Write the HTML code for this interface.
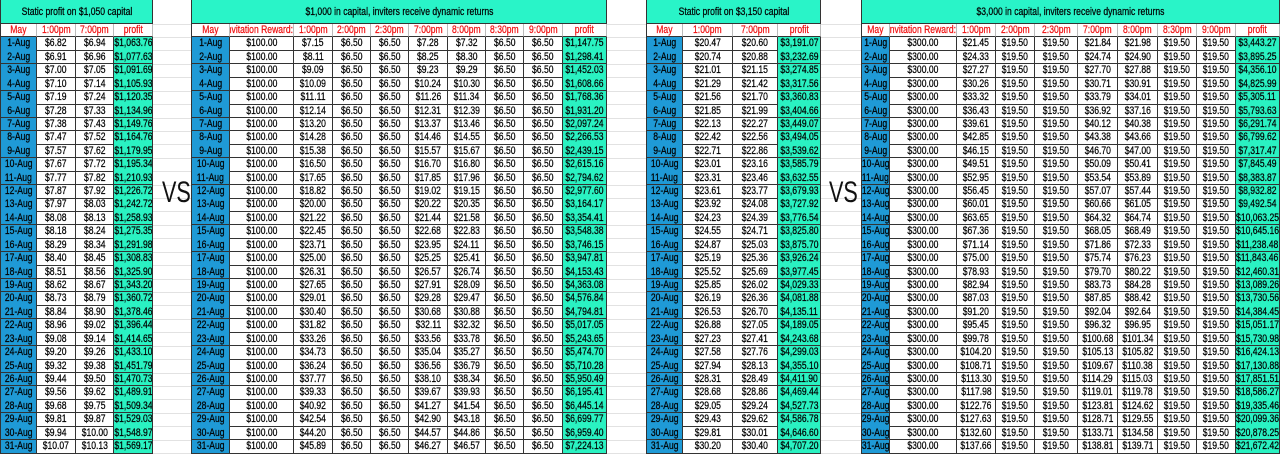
<!DOCTYPE html>
<html><head><meta charset="utf-8">
<style>
html,body{margin:0;padding:0;background:#fff;}
body{width:1280px;height:453px;position:relative;overflow:hidden;font-family:"Liberation Sans",sans-serif;}
.c{position:absolute;box-sizing:border-box;display:flex;align-items:center;justify-content:center;overflow:hidden;white-space:nowrap;font-size:11px;color:#000;border-right:1px solid #333;border-bottom:1px solid #333;-webkit-text-stroke:0.25px currentColor;}
.c span,.title span{display:inline-block;transform:scaleX(0.78);transform-origin:center;}
.c.right{justify-content:flex-end;}
.c.right span{transform-origin:right center;}
.title{position:absolute;box-sizing:border-box;background:#29f4c8;display:flex;align-items:center;justify-content:center;font-size:11px;color:#000;border-bottom:1px solid #333;-webkit-text-stroke:0.25px #000;}
.hd{color:#f01010;background:#fff;}
.date{background:#1f9ad6;}
.prof{background:#2af2c2;}
.vs{position:absolute;font-family:"Liberation Sans",sans-serif;font-size:30px;color:#111;transform:scaleX(0.72);transform-origin:left top;}
.g{position:absolute;background:#e2e2e2;}
</style></head>
<body>
<script>
// ---- data ----
const dates = ["1-Aug","2-Aug","3-Aug","4-Aug","5-Aug","6-Aug","7-Aug","8-Aug","9-Aug","10-Aug","11-Aug","12-Aug","13-Aug","14-Aug","15-Aug","16-Aug","17-Aug","18-Aug","19-Aug","20-Aug","21-Aug","22-Aug","23-Aug","24-Aug","25-Aug","26-Aug","27-Aug","28-Aug","29-Aug","30-Aug","31-Aug"];
const t1Pm1 = [6.82,6.91,7.00,7.10,7.19,7.28,7.38,7.47,7.57,7.67,7.77,7.87,7.97,8.08,8.18,8.29,8.40,8.51,8.62,8.73,8.84,8.96,9.08,9.20,9.32,9.44,9.56,9.68,9.81,9.94,10.07];
const t1Pm7 = [6.94,6.96,7.05,7.14,7.24,7.33,7.43,7.52,7.62,7.72,7.82,7.92,8.03,8.13,8.24,8.34,8.45,8.56,8.67,8.79,8.90,9.02,9.14,9.26,9.38,9.50,9.62,9.75,9.87,10.00,10.13];
const t1Profit = [1063.76,1077.63,1091.69,1105.93,1120.35,1134.96,1149.76,1164.76,1179.95,1195.34,1210.93,1226.72,1242.72,1258.93,1275.35,1291.98,1308.83,1325.90,1343.20,1360.72,1378.46,1396.44,1414.65,1433.10,1451.79,1470.73,1489.91,1509.34,1529.03,1548.97,1569.17];
const t2Reward = [100,100,100,100,100,100,100,100,100,100,100,100,100,100,100,100,100,100,100,100,100,100,100,100,100,100,100,100,100,100,100];
const t2Pm1 = [7.15,8.11,9.09,10.09,11.11,12.14,13.20,14.28,15.38,16.50,17.65,18.82,20.00,21.22,22.45,23.71,25.00,26.31,27.65,29.01,30.40,31.82,33.26,34.73,36.24,37.77,39.33,40.92,42.54,44.20,45.89];
const t2Flat = [6.5,6.5,6.5,6.5,6.5,6.5,6.5,6.5,6.5,6.5,6.5,6.5,6.5,6.5,6.5,6.5,6.5,6.5,6.5,6.5,6.5,6.5,6.5,6.5,6.5,6.5,6.5,6.5,6.5,6.5,6.5];
const t2Pm7 = [7.28,8.25,9.23,10.24,11.26,12.31,13.37,14.46,15.57,16.70,17.85,19.02,20.22,21.44,22.68,23.95,25.25,26.57,27.91,29.28,30.68,32.11,33.56,35.04,36.56,38.10,39.67,41.27,42.90,44.57,46.27];
const t2Pm8 = [7.32,8.30,9.29,10.30,11.34,12.39,13.46,14.55,15.67,16.80,17.96,19.15,20.35,21.58,22.83,24.11,25.41,26.74,28.09,29.47,30.88,32.32,33.78,35.27,36.79,38.34,39.93,41.54,43.18,44.86,46.57];
const t2Profit = [1147.75,1298.41,1452.03,1608.66,1768.36,1931.20,2097.24,2266.53,2439.15,2615.16,2794.62,2977.60,3164.17,3354.41,3548.38,3746.15,3947.81,4153.43,4363.08,4576.84,4794.81,5017.05,5243.65,5474.70,5710.28,5950.49,6195.41,6445.14,6699.77,6959.40,7224.13];
const t3Pm1 = [20.47,20.74,21.01,21.29,21.56,21.85,22.13,22.42,22.71,23.01,23.31,23.61,23.92,24.23,24.55,24.87,25.19,25.52,25.85,26.19,26.53,26.88,27.23,27.58,27.94,28.31,28.68,29.05,29.43,29.81,30.20];
const t3Pm7 = [20.60,20.88,21.15,21.42,21.70,21.99,22.27,22.56,22.86,23.16,23.46,23.77,24.08,24.39,24.71,25.03,25.36,25.69,26.02,26.36,26.70,27.05,27.41,27.76,28.13,28.49,28.86,29.24,29.62,30.01,30.40];
const t3Profit = [3191.07,3232.69,3274.85,3317.56,3360.83,3404.66,3449.07,3494.05,3539.62,3585.79,3632.55,3679.93,3727.92,3776.54,3825.80,3875.70,3926.24,3977.45,4029.33,4081.88,4135.11,4189.05,4243.68,4299.03,4355.10,4411.90,4469.44,4527.73,4586.78,4646.60,4707.20];
const t4Reward = [300,300,300,300,300,300,300,300,300,300,300,300,300,300,300,300,300,300,300,300,300,300,300,300,300,300,300,300,300,300,300];
const t4Pm1 = [21.45,24.33,27.27,30.26,33.32,36.43,39.61,42.85,46.15,49.51,52.95,56.45,60.01,63.65,67.36,71.14,75.00,78.93,82.94,87.03,91.20,95.45,99.78,104.20,108.71,113.30,117.98,122.76,127.63,132.60,137.66];
const t4Flat = [19.5,19.5,19.5,19.5,19.5,19.5,19.5,19.5,19.5,19.5,19.5,19.5,19.5,19.5,19.5,19.5,19.5,19.5,19.5,19.5,19.5,19.5,19.5,19.5,19.5,19.5,19.5,19.5,19.5,19.5,19.5];
const t4Pm7 = [21.84,24.74,27.70,30.71,33.79,36.92,40.12,43.38,46.70,50.09,53.54,57.07,60.66,64.32,68.05,71.86,75.74,79.70,83.73,87.85,92.04,96.32,100.68,105.13,109.67,114.29,119.01,123.81,128.71,133.71,138.81];
const t4Pm8 = [21.98,24.90,27.88,30.91,34.01,37.16,40.38,43.66,47.00,50.41,53.89,57.44,61.05,64.74,68.49,72.33,76.23,80.22,84.28,88.42,92.64,96.95,101.34,105.82,110.38,115.03,119.78,124.62,129.55,134.58,139.71];
const t4Profit = [3443.27,3895.25,4356.10,4825.99,5305.11,5793.63,6291.74,6799.62,7317.47,7845.49,8383.87,8932.82,9492.54,10063.25,10645.16,11238.48,11843.46,12460.31,13089.26,13730.56,14384.45,15051.17,15730.98,16424.13,17130.88,17851.51,18586.27,19335.46,20099.36,20878.25,21672.42];

// ---- layout ----
const ROW0 = 37, RH = 13.42, HEAD0 = 24;
const fmt = v => "$" + v.toLocaleString("en-US",{minimumFractionDigits:2,maximumFractionDigits:2});

for (let i = 0; i <= 32; i++) {
  const y = Math.round(ROW0 + (i-1) * RH);
  [[153,191],[607,646],[821,861]].forEach(([a,b]) => {
    const g = document.createElement('div');
    g.className = 'g';
    
    
    g.style.cssText = `left:${a}px;top:${y}px;width:${b-a}px;height:1px`;
    document.body.appendChild(g);
  });
}

const tables = [
  {name:'static-1050', title:'Static profit on $1,050 capital', edges:[0,37,76,114,153],
   cols:[['May',dates],['1:00pm',t1Pm1],['7:00pm',t1Pm7],['profit',t1Profit]]},
  {name:'dynamic-1000', title:'$1,000 in capital,  inviters receive dynamic returns', edges:[191,230,294,333,371,409,448,486,524,563,607],
   cols:[['May',dates],['Invitation Reward:',t2Reward],['1:00pm',t2Pm1],['2:00pm',t2Flat],['2:30pm',t2Flat],['7:00pm',t2Pm7],['8:00pm',t2Pm8],['8:30pm',t2Flat],['9:00pm',t2Flat],['profit',t2Profit]]},
  {name:'static-3150', title:'Static profit on $3,150 capital', edges:[646,683,733,778,821],
   cols:[['May',dates],['1:00pm',t3Pm1],['7:00pm',t3Pm7],['profit',t3Profit]]},
  {name:'dynamic-3000', title:'$3,000 in capital, inviters receive dynamic returns', edges:[861,890,957,996,1035,1078,1118,1158,1197,1236,1280],
   cols:[['May',dates],['Invitation Reward:',t4Reward],['1:00pm',t4Pm1],['2:00pm',t4Flat],['2:30pm',t4Flat],['7:00pm',t4Pm7],['8:00pm',t4Pm8],['8:30pm',t4Flat],['9:00pm',t4Flat],['profit',t4Profit]]}
];

tables.forEach(t => {
  const x0 = t.edges[0], x1 = t.edges[t.edges.length-1];
  const ti = document.createElement('div');
  ti.className = 'title';
  
  
  ti.style.cssText = `left:${x0}px;top:0;width:${x1-x0}px;height:${HEAD0}px;border-left:1px solid #333;border-right:1px solid #333`;
  ti.innerHTML = '<span>' + t.title + '</span>';
  document.body.appendChild(ti);
  t.cols.forEach((col, ci) => {
    const cx = t.edges[ci], cw = t.edges[ci+1] - cx;
    const h = document.createElement('div');
    h.className = 'c hd' + (col[0].startsWith('Invitation') ? ' right' : '');
    
    
    h.style.cssText = `left:${cx}px;top:${HEAD0}px;width:${cw}px;height:${ROW0-HEAD0}px;border-right:1px solid #bbb` + (ci===0?';border-left:1px solid #333':'');
    h.innerHTML = '<span>' + col[0] + '</span>';
    document.body.appendChild(h);
    col[1].forEach((v, ri) => {
      const y = ROW0 + ri * RH;
      const d = document.createElement('div');
      d.className = 'c' + (ci === 0 ? ' date' : (col[0] === 'profit' ? ' prof' : ''));
      
      
      d.style.cssText = `left:${cx}px;top:${y.toFixed(2)}px;width:${cw}px;height:${(RH+0.5).toFixed(2)}px` + (ci===0?';border-left:1px solid #333':'');
      d.innerHTML = '<span>' + (ci === 0 ? v : fmt(v)) + '</span>';
      document.body.appendChild(d);
    });
  });
});
</script>
<div class="vs" style="left:162px;top:176px">VS</div>
<div class="vs" style="left:829px;top:176px">VS</div>
</body></html>
